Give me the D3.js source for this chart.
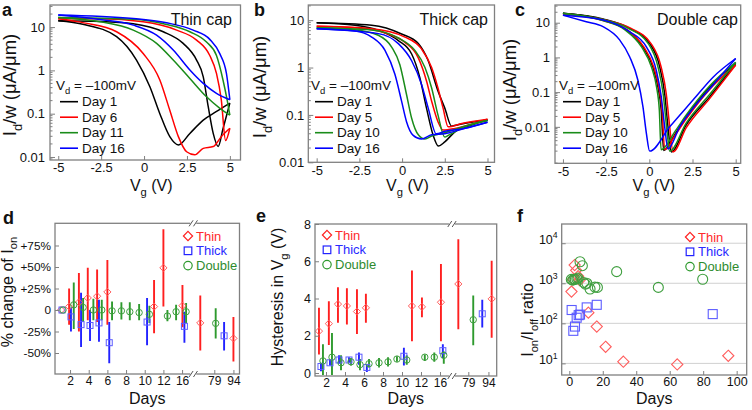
<!DOCTYPE html>
<html><head><meta charset="utf-8">
<script src="https://cdn.jsdelivr.net/npm/d3@7"></script>
<style>body{margin:0;background:#fff}</style>
</head><body><script>
// ---------- DATA ----------
const vgTicks = [-5, -2.5, 0, 2.5, 5];
const ivYTicks = [0.01, 0.1, 1, 10];
const curveColors = ["#000000", "#ff0000", "#1a8c1a", "#0000ff"];
const thinCapDays = ["Day 1", "Day 6", "Day 11", "Day 16"];
const thickCapDays = ["Day 1", "Day 5", "Day 10", "Day 16"];
const doubleCapDays = ["Day 1", "Day 5", "Day 10", "Day 16"];

// [Vg (V), Id/w (uA/um)]; fwd = first branch, bwd = return branch
const thinCapFwd = [
  [[-5,14],[-3.5,11.5],[-1.6,6.0],[-0.44,1.73],[0.34,0.42],[0.92,0.10],[1.5,0.0295],[2.0,0.019],[2.67,0.035],[3.45,0.071],[4.2,0.111],[5,0.175]],
  [[-5,15.5],[-3.5,12.5],[-1.6,7.8],[-0.05,2.45],[0.92,0.6],[1.5,0.12],[2.0,0.0295],[2.48,0.0132],[2.96,0.0112],[3.45,0.0158],[4.03,0.0174],[4.5,0.0295],[5,0.046]],
  [[-5,16.7],[-2.57,13.3],[-0.63,8.5],[0.73,4.2],[1.7,1.73],[2.67,0.65],[3.64,0.245],[4.42,0.133],[5,0.093]],
  [[-5,19],[-2.57,15],[-0.63,11.1],[0.73,6.5],[1.7,2.95],[2.67,1.02],[3.45,0.5],[4.22,0.295],[5,0.21]]
];
const thinCapBwd = [
  [[-5,14],[-2.5,13.5],[-0.63,12.0],[1.12,7.8],[2.28,4.2],[3.06,1.73],[3.45,0.71],[3.74,0.145],[4.03,0.035],[4.32,0.0174],[4.6,0.045],[5,0.175]],
  [[-5,15.5],[-2.57,15.5],[-0.05,13.2],[1.9,8.5],[3.06,5.0],[3.83,2.2],[4.22,0.85],[4.5,0.21],[4.75,0.024],[5,0.046]],
  [[-5,16.7],[-0.63,15.1],[1.31,11.5],[2.67,7.8],[3.64,4.5],[4.22,2.2],[4.6,0.6],[4.85,0.2],[5,0.093]],
  [[-5,19],[-0.63,15.8],[1.31,12.6],[2.86,8.5],[3.83,5.2],[4.42,2.4],[4.8,0.85],[5,0.21]]
];
const thickCapFwd = [
  [[-5,8.8],[-2.76,7.8],[-1.39,6.1],[-0.22,3.7],[0.56,1.93],[1.04,0.61],[1.43,0.139],[1.82,0.037],[2.12,0.022],[2.5,0.027],[3.09,0.044],[4.06,0.061],[5,0.078]],
  [[-5,7.4],[-2.76,6.9],[-0.81,5.1],[0.17,3.4],[0.95,1.6],[1.43,0.52],[1.73,0.195],[2.1,0.072],[2.4,0.048],[3.09,0.052],[4.06,0.064],[5,0.081]],
  [[-5,6.9],[-2.76,6.3],[-1.39,4.8],[-0.61,2.7],[-0.13,1.15],[0.26,0.27],[0.56,0.085],[0.95,0.038],[1.34,0.031],[1.73,0.036],[2.5,0.042],[3.67,0.058],[5,0.076]],
  [[-5,6.6],[-2.76,5.9],[-1.78,4.4],[-1.0,2.3],[-0.42,0.72],[-0.03,0.195],[0.26,0.072],[0.65,0.037],[1.14,0.031],[1.73,0.038],[2.5,0.04],[3.48,0.05],[5,0.07]]
];
const thickCapBwd = [
  [[-5,8.8],[-1.78,7.8],[-0.03,5.1],[0.95,3.2],[1.53,1.39],[2.1,0.32],[2.5,0.139],[2.9,0.058],[3.28,0.062],[4.06,0.07],[5,0.078]],
  [[-5,7.4],[-1.78,6.6],[0.17,4.4],[1.14,2.47],[1.73,1.0],[2.1,0.37],[2.4,0.139],[2.7,0.056],[3.5,0.066],[5,0.081]],
  [[-5,6.9],[-1.78,6.2],[-0.22,4.2],[0.75,2.3],[1.34,1.0],[1.73,0.37],[2.1,0.1],[2.5,0.034],[2.7,0.037],[3.67,0.056],[5,0.076]],
  [[-5,6.6],[-1.39,5.2],[-0.22,3.2],[0.56,1.39],[1.14,0.44],[1.53,0.139],[2.0,0.04],[2.5,0.045],[3.67,0.052],[5,0.07]]
];
const doubleCapFwd = [
  [[-5,18.6],[-2.68,11.9],[-1.33,6.2],[-0.37,2.0],[0.21,0.52],[0.5,0.14],[0.69,0.03],[0.83,0.0021],[1.5,0.0063],[2.14,0.0195],[3.49,0.14],[5,0.68]],
  [[-5,18],[-2.68,11.5],[-1.28,6.2],[-0.32,2.0],[0.26,0.52],[0.55,0.14],[0.74,0.03],[0.89,0.0022],[1.5,0.0058],[2.14,0.017],[3.49,0.12],[5,0.6]],
  [[-5,18.5],[-2.68,11.5],[-1.41,6.2],[-0.45,2.0],[0.13,0.52],[0.42,0.14],[0.58,0.03],[0.68,0.0022],[1.5,0.0075],[2.14,0.022],[3.49,0.15],[5,0.72]],
  [[-5,16.5],[-3.65,10.7],[-2.68,7.7],[-1.72,3.2],[-1.14,1.05],[-0.66,0.22],[-0.37,0.038],[-0.17,0.0065],[0.02,0.002],[1.18,0.01],[2.53,0.059],[3.69,0.27],[5,0.93]]
];
const doubleCapBwd = [
  [[-5,18.6],[-2.68,12.8],[-1.14,6.9],[0.02,2.5],[0.6,0.54],[0.89,0.09],[1.08,0.01],[1.27,0.0019],[2.14,0.0115],[3.49,0.073],[5,0.68]],
  [[-5,18],[-2.68,12.3],[-1.06,6.9],[0.1,2.5],[0.68,0.54],[0.98,0.09],[1.18,0.01],[1.37,0.0019],[2.14,0.0095],[3.49,0.065],[5,0.6]],
  [[-5,18.5],[-2.68,12.3],[-1.22,6.9],[-0.06,2.5],[0.5,0.54],[0.8,0.09],[1.0,0.01],[1.18,0.002],[2.14,0.013],[3.49,0.085],[5,0.72]],
  [[-5,16.5],[-2.68,12],[-1.14,5.5],[-0.17,2.0],[0.4,0.43],[0.69,0.074],[0.89,0.01],[1.08,0.0023],[1.76,0.01],[2.53,0.034],[3.69,0.16],[5,0.93]]
];

// Panel d: [slot, % change, error high, error low]
const dayTickLabels = ["2","4","6","8","10","12","16","79","94"];
const dayTickSlotsD = [2,4,6,8,10,12,14,17.45,19.5];
const dayTickSlotsE = [2,4,6,8,10,12,14,16.98,19.1];
const thinChange = [[1.04,0,0,0],[1.9,4,25,-17],[2.95,9,43,-25],[3.9,14,49,-12],[4.9,16,47,-14],[6,21,58,-17],[11,4,35,-27],[12,49,94,4],[14.04,5,29,-20],[15.95,-15,17,-47],[19.5,-33,-8,-60]];
const thickChange = [[1.14,0,0,0],[2.1,-8,3,-25],[3.18,-17,20,-43],[4.14,-18,0,-36],[5.1,-15,12,-37],[6.2,-38,-14,-62],[10.25,-14,14,-41],[14.25,-19,-2,-38],[18.5,-30,-14,-47]];
const doubleChange = [[1.25,0,0,0],[2.4,6,32,-22],[3.4,3,14,-14],[4.5,0,13,-12],[5.4,0,12,-12],[6.5,-1,10,-12],[7.5,-1,9,-11],[8.4,-2,9,-12],[9.4,-3,7,-12],[10.5,-5,5,-15],[12.43,-7,0,-13],[13.36,-2,6,-12],[14.43,-2,8,-15],[17.6,-15.5,2,-33]];
const changeTicks = [-50,-25,0,25,50,75];
const changeTickLabels = ["-50%","-25%","0","+25%","+50%","+75%"];

// Panel e: [slot, hysteresis (V), error high, error low]
const thinHyst = [[1.26,2.25,3.5,1.0],[2.3,2.65,3.85,1.5],[3.26,3.7,4.6,2.7],[4.2,3.6,4.55,2.6],[5.26,3.3,4.5,2.1],[6.2,3.5,4.25,2.7],[11.05,3.6,5.5,1.7],[12.1,3.55,4.05,3.0],[14.1,3.8,5.85,1.7],[15.93,4.78,7.18,2.35],[19.44,3.98,6.03,1.9]];
const thickHyst = [[1.47,0.35,0.55,0.1],[2.42,0.55,0.7,0.4],[3.37,0.7,0.95,0.5],[4.42,0.7,0.85,0.55],[5.47,0.85,1.1,0.45],[6.3,0.3,0.45,0.05],[10.2,0.9,1.35,0.4],[14.3,1.2,1.55,0.8],[18.45,3.18,3.93,2.44]];
const doubleHyst = [[1.68,0.65,1.55,-0.1],[2.63,0.85,2.15,-0.1],[3.58,0.55,0.95,0.15],[4.63,0.6,0.8,0.4],[5.58,0.45,0.75,0.15],[6.53,0.5,0.75,0.3],[7.58,0.55,0.8,0.3],[8.53,0.6,0.85,0.35],[9.47,0.75,0.9,0.6],[10.5,0.7,0.95,0.45],[12.4,0.85,1.0,0.65],[13.4,0.85,1.1,0.6],[14.4,0.95,1.15,0.5],[17.5,2.86,4.16,1.49]];
const hystTicks = [0,2,4,6,8];

// Panel f: [day, Ion/Ioff]
const thinRatio = [[1.3,620],[2.3,1250],[3.2,2850],[4.1,2100],[5.3,1500],[6.2,1200],[11.4,185],[16.4,83],[21.7,26],[32.3,11],[64.5,9.4],[95,15.5]];
const thickRatio = [[1.4,215],[2.4,65],[3.4,83],[4.4,138],[5.6,160],[6.4,165],[10.4,250],[16.4,290],[85.7,170]];
const doubleRatio = [[1.2,1250],[2,1200],[2.8,1250],[3.6,1250],[4.5,1300],[5.2,1350],[6.4,3450],[7.8,2750],[8.6,1050],[9.6,950],[10.5,1000],[12.4,720],[15.3,800],[16.8,790],[28.3,1950],[53.2,790],[79.7,1260]];
const ratioXTicks = [0,20,40,60,80,100];
const ratioYTicks = [10,100,1000,10000];
const seriesNames = ["Thin","Thick","Double"];

// ---------- DRAWING ----------
const FONT = '"Liberation Sans", Arial, Helvetica, sans-serif';
const FRAME = "#808080";
const svg = d3.select("body").append("svg").attr("width",752).attr("height",410)
  .style("font-family",FONT);

function richText(sel, parts, size){
  let off = 0;
  parts.forEach(([t,k]) => {
    const target = k === "sub" ? size*0.3 : k === "sup" ? -size*0.42 : 0;
    sel.append("tspan").attr("dy", target-off).attr("font-size", k ? size*0.7 : size).text(t);
    off = target;
  });
  return sel;
}
function frame(l,t,r,b){
  svg.append("rect").attr("x",l).attr("y",t).attr("width",r-l).attr("height",b-t)
    .attr("fill","none").attr("stroke",FRAME).attr("stroke-width",1.3);
}
function styleAxis(g, size){
  g.select(".domain").remove();
  g.selectAll(".tick line").attr("stroke",FRAME).attr("stroke-width",1);
  g.selectAll(".tick text").attr("font-size",size).attr("fill","#111").attr("font-family",FONT);
}
function letter(txt,x,y){
  svg.append("text").attr("x",x).attr("y",y).attr("font-size",18).attr("font-weight","bold").attr("fill","#111").text(txt);
}
function yTitle(parts,x,cy,size){
  const t = svg.append("text").attr("transform",`translate(${x},${cy}) rotate(-90)`).attr("text-anchor","middle").attr("fill","#111").attr("font-size",size);
  richText(t, parts, size);
}
function xTitle(parts,cx,y,size){
  const t = svg.append("text").attr("x",cx).attr("y",y).attr("text-anchor","middle").attr("fill","#111").attr("font-size",size);
  richText(t, parts, size);
}

function ivPanel(o){
  const x = d3.scaleLinear().domain(o.xDom).range([o.l,o.r]);
  const y = d3.scaleLog().domain(o.yDom).range([o.b,o.t]);
  const g = svg.append("g");
  const cid = "clip-"+o.id;
  g.append("clipPath").attr("id",cid).append("rect").attr("x",o.l).attr("y",o.t).attr("width",o.r-o.l).attr("height",o.b-o.t);
  const line = d3.line().x(d=>x(d[0])).y(d=>y(d[1])).curve(d3.curveMonotoneX);
  const cg = g.append("g").attr("clip-path",`url(#${cid})`);
  o.fwd.forEach((c,i) => {
    [c, o.bwd[i]].forEach(arr => cg.append("path").attr("d",line(arr)).attr("fill","none")
      .attr("stroke",curveColors[i]).attr("stroke-width",1.5).attr("stroke-linejoin","round"));
  });
  const xg = g.append("g").attr("transform",`translate(0,${o.b})`)
    .call(d3.axisBottom(x).tickValues(vgTicks).tickSize(-4).tickPadding(3).tickFormat(d=>String(d)));
  styleAxis(xg,13);
  const yg = g.append("g").attr("transform",`translate(${o.l},0)`)
    .call(d3.axisLeft(y).tickValues(ivYTicks.filter(v=>v>=o.yDom[0]*0.999)).tickSize(-5).tickPadding(o.ypad).tickFormat(d=>String(d)));
  styleAxis(yg,13);
  const minors = [];
  for (let e=-4;e<=2;e++) for (let m=2;m<=9;m++){ const v=m*Math.pow(10,e); if (v>o.yDom[0] && v<o.yDom[1]) minors.push(v); }
  g.selectAll(null).data(minors).enter().append("line").attr("x1",o.l).attr("x2",o.l+2.5)
    .attr("y1",d=>y(d)).attr("y2",d=>y(d)).attr("stroke",FRAME).attr("stroke-width",1);
  frame(o.l,o.t,o.r,o.b);
  svg.append("text").attr("x",o.titleX).attr("y",25).attr("text-anchor","end").attr("font-size",16).attr("fill","#111").text(o.title);
  const vd = svg.append("text").attr("x",o.legX-4).attr("y",90).attr("fill","#111").attr("font-size",13.5);
  richText(vd,[["V",""],["d","sub"],[" = \u2013100mV",""]],13.5);
  o.days.forEach((d,i) => {
    const yy = 101.7 + i*15.5;
    svg.append("line").attr("x1",o.legX).attr("x2",o.legX+18).attr("y1",yy).attr("y2",yy).attr("stroke",curveColors[i]).attr("stroke-width",1.6);
    svg.append("text").attr("x",o.legX+22).attr("y",yy+4.7).attr("font-size",13.5).attr("fill","#111").text(d);
  });
  xTitle([["V",""],["g","sub"],[" (V)",""]], (o.l+o.r)/2+6, 191, 16);
  yTitle([["I",""],["d","sub"],["/w (\u03bcA/\u03bcm)",""]], o.ytx, o.ytc, 18.5);
  letter(o.letter, o.lx, 16);
}

ivPanel({id:"a", l:50, r:240.5, t:5, b:160, xDom:[-5.48,5.62], yDom:[Math.pow(10,-2.07),Math.pow(10,1.51)],
  fwd:thinCapFwd, bwd:thinCapBwd, days:thinCapDays, title:"Thin cap", titleX:232, legX:60, ypad:5,
  ytx:16, ytc:85, letter:"a", lx:2});
ivPanel({id:"b", l:308.3, r:494.5, t:5, b:162.3, xDom:[-5.49,5.41], yDom:[0.01,Math.pow(10,1.32)],
  fwd:thickCapFwd, bwd:thickCapBwd, days:thickCapDays, title:"Thick cap", titleX:488, legX:315, ypad:4,
  ytx:266, ytc:87, letter:"b", lx:254});
ivPanel({id:"c", l:555, r:740.7, t:5, b:163.3, xDom:[-5.46,5.29], yDom:[Math.pow(10,-3.05),Math.pow(10,1.51)],
  fwd:doubleCapFwd, bwd:doubleCapBwd, days:doubleCapDays, title:"Double cap", titleX:738, legX:563, ypad:5,
  ytx:516, ytc:90, letter:"c", lx:515});

const serBar = ["#ff1f1f","#2222ff","#2e9a2e"];
const serMark = ["#ff5c5c","#5c5cff","#3f9f3f"];
const serText = ["#ff2a2a","#2a2aff","#2e8b2e"];
const shapes = ["diamond","square","circle"];
function sym(g, shape, cx, cy, s, color, w){
  if (shape==="diamond") g.append("path").attr("d",`M${cx},${cy-s}L${cx+s},${cy}L${cx},${cy+s}L${cx-s},${cy}Z`);
  else if (shape==="square") g.append("rect").attr("x",cx-s).attr("y",cy-s).attr("width",2*s).attr("height",2*s);
  else g.append("circle").attr("cx",cx).attr("cy",cy).attr("r",s);
  g.selectAll(":scope > :last-child").attr("fill","none").attr("stroke",color).attr("stroke-width",w);
}
function legend(lx, ly, sizes){
  seriesNames.forEach((n,i) => {
    const yy = ly + i*14.8;
    sym(svg, shapes[i], lx, yy, sizes[i], serBar[i], 1.2);
    svg.append("text").attr("x",lx+8).attr("y",yy+4.6).attr("font-size",13).attr("fill",serText[i]).text(n);
  });
}
function breakMark(xp, t, b){
  [t,b].forEach(yy => {
    svg.append("rect").attr("x",xp-3).attr("y",yy-2).attr("width",6).attr("height",4).attr("fill","#fff");
    [-2.2,2.2].forEach(dx => svg.append("line").attr("x1",xp+dx-2).attr("y1",yy+3).attr("x2",xp+dx+2).attr("y2",yy-3)
      .attr("stroke","#555").attr("stroke-width",1));
  });
}

function errPanel(o){
  const x = d3.scaleLinear().domain(o.xDom).range([o.l,o.r]);
  const y = d3.scaleLinear().domain(o.yDom).range([o.b,o.t]);
  const g = svg.append("g");
  const cid = "clip-"+o.id;
  g.append("clipPath").attr("id",cid).append("rect").attr("x",o.l).attr("y",o.t).attr("width",o.r-o.l).attr("height",o.b-o.t);
  const cg = g.append("g").attr("clip-path",`url(#${cid})`);
  o.series.forEach((s,i) => {
    cg.selectAll(null).data(s.filter(d=>d[2]!==d[3])).enter().append("line")
      .attr("x1",d=>x(d[0])).attr("x2",d=>x(d[0])).attr("y1",d=>y(d[2])).attr("y2",d=>y(d[3]))
      .attr("stroke",serBar[i]).attr("stroke-width",1.9);
  });
  o.series.forEach((s,i) => {
    s.forEach(d => sym(cg, shapes[i], x(d[0]), y(d[1]), o.ms[i], serMark[i], 1));
  });
  const xg = g.append("g").attr("transform",`translate(0,${o.b})`)
    .call(d3.axisBottom(x).tickValues(o.xTicks).tickSize(-4).tickPadding(2).tickFormat((d,i)=>dayTickLabels[i]));
  styleAxis(xg,12);
  const yg = g.append("g").attr("transform",`translate(${o.l},0)`)
    .call(d3.axisLeft(y).tickValues(o.yTicks).tickSize(-4).tickPadding(4).tickFormat((d,i)=>o.yLabels[i]));
  styleAxis(yg,o.ytSize);
  frame(o.l,o.t,o.r,o.b);
  breakMark(x(o.breakAt), o.t, o.b);
  legend(o.legX, o.legY, [4.6,3.8,4.2]);
  xTitle([["Days",""]], (o.l+o.r)/2, 404, 16);
  yTitle(o.yTitle, o.ytx, o.ytc, 16);
  letter(o.letter, o.lx, o.ly);
}

errPanel({id:"d", l:55, r:239.5, t:223.3, b:374, xDom:[0.39,20.15], yDom:[-74.4,100.8],
  series:[thinChange,thickChange,doubleChange], ms:[3.6,3.0,3.2], xTicks:dayTickSlotsD,
  yTicks:changeTicks, yLabels:changeTickLabels, ytSize:11.8, breakAt:15.2, legX:188, legY:236,
  yTitle:[["% change of I",""],["on","sub"]], ytx:12.5, ytc:292, letter:"d", lx:3, ly:224});
errPanel({id:"e", l:315, r:496.7, t:224, b:376, xDom:[0.842,19.97], yDom:[-0.16,8],
  series:[thinHyst,thickHyst,doubleHyst], ms:[3.6,3.0,3.2], xTicks:dayTickSlotsE,
  yTicks:hystTicks, yLabels:hystTicks.map(String), ytSize:12.5, breakAt:15.26, legX:327, legY:235,
  yTitle:[["Hysteresis in V",""],["g","sub"],[" (V)",""]], ytx:283, ytc:297, letter:"e", lx:256, ly:222});

(function(){
  const l=561.7, r=746.7, t=224, b=375;
  const x = d3.scaleLinear().domain([-4.54,106]).range([l,r]);
  const y = d3.scaleLog().domain([Math.pow(10,0.71),Math.pow(10,4.48)]).range([b,t]);
  const g = svg.append("g");
  g.selectAll(null).data(ratioYTicks).enter().append("line").attr("x1",l).attr("x2",r)
    .attr("y1",d=>y(d)).attr("y2",d=>y(d)).attr("stroke","#d0d0d0").attr("stroke-width",1);
  const series=[thinRatio,thickRatio,doubleRatio];
  const ms=[5.6,4.5,5.0];
  series.forEach((s,i)=> s.forEach(d => sym(g, shapes[i], x(d[0]), y(d[1]), ms[i], serMark[i], 1.1)));
  const xg = g.append("g").attr("transform",`translate(0,${b})`)
    .call(d3.axisBottom(x).tickValues(ratioXTicks).tickSize(-4).tickPadding(2));
  styleAxis(xg,12.5);
  const yg = g.append("g").attr("transform",`translate(${l},0)`)
    .call(d3.axisLeft(y).tickValues(ratioYTicks).tickSize(-4).tickPadding(4).tickFormat(""));
  styleAxis(yg,12.5);
  yg.selectAll(".tick").each(function(d){
    const t = d3.select(this).append("text").attr("x",-4).attr("dy","0.45em").attr("text-anchor","end").attr("fill","#111");
    richText(t, [["10",""],[String(Math.round(Math.log10(d))),"sup"]], 12.5);
  });
  frame(l,t,r,b);
  legend(690, 237, [4.6,3.8,4.2]);
  xTitle([["Days",""]], (l+r)/2, 404, 16);
  yTitle([["I",""],["on","sub"],["/I",""],["off","sub"],[" ratio",""]], 533, 320, 16);
  letter("f", 517, 222);
})();
</script></body></html>
